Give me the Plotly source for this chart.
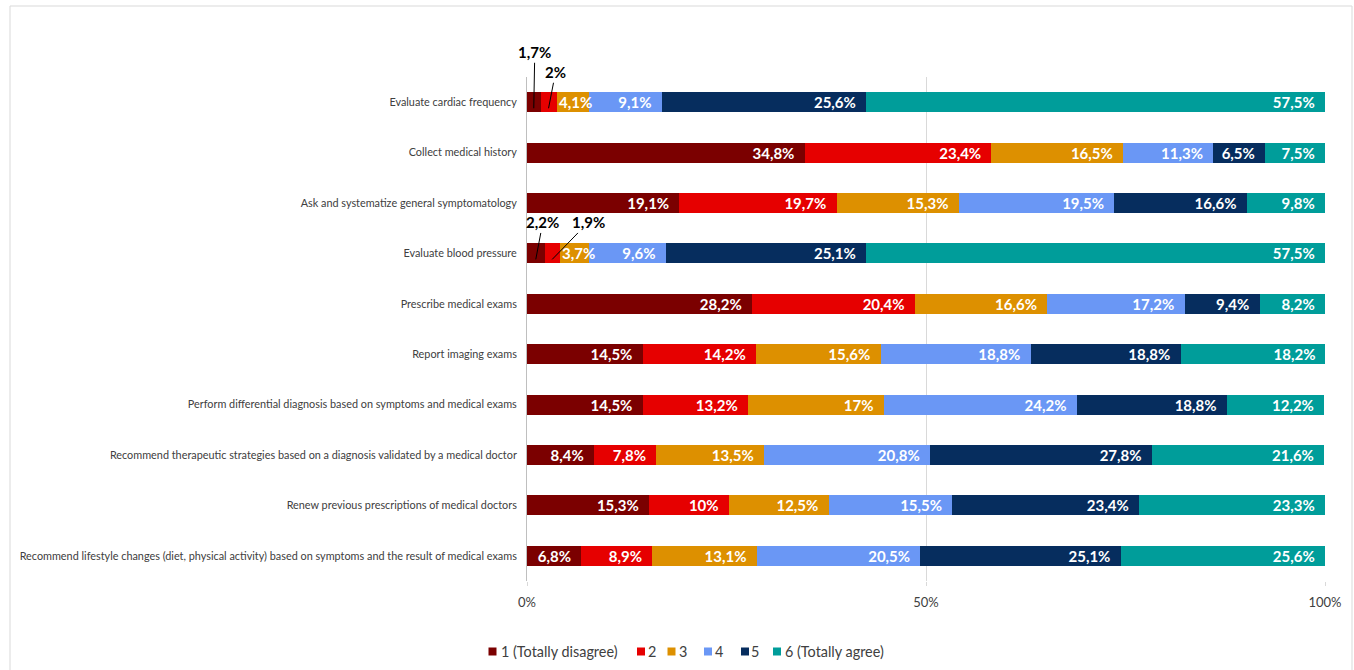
import plotly.graph_objects as go

# Survey items, top to bottom
items = [
    "Evaluate cardiac frequency",
    "Collect medical history",
    "Ask and systematize general symptomatology",
    "Evaluate blood pressure",
    "Prescribe medical exams",
    "Report imaging exams",
    "Perform differential diagnosis based on symptoms and medical exams",
    "Recommend therapeutic strategies based on a diagnosis validated by a medical doctor",
    "Renew previous prescriptions of medical doctors",
    "Recommend lifestyle changes (diet, physical activity) based on symptoms and the result of medical exams",
]

# Share of answers (%) per agreement level
level1 = [1.7, 34.8, 19.1, 2.2, 28.2, 14.5, 14.5, 8.4, 15.3, 6.8]
level2 = [2.0, 23.4, 19.7, 1.9, 20.4, 14.2, 13.2, 7.8, 10.0, 8.9]
level3 = [4.1, 16.5, 15.3, 3.7, 16.6, 15.6, 17.0, 13.5, 12.5, 13.1]
level4 = [9.1, 11.3, 19.5, 9.6, 17.2, 18.8, 24.2, 20.8, 15.5, 20.5]
level5 = [25.6, 6.5, 16.6, 25.1, 9.4, 18.8, 18.8, 27.8, 23.4, 25.1]
level6 = [57.5, 7.5, 9.8, 57.5, 8.2, 18.2, 12.2, 21.6, 23.3, 25.6]

level_names = ["1 (Totally disagree)", "2", "3", "4", "5", "6 (Totally agree)"]
colors = ["#7B0000", "#E60000", "#DD9000", "#6A97F5", "#062D5E", "#009D9A"]

tick_vals = [0, 50, 100]
tick_text = ["0%", "50%", "100%"]

LABEL_FONT = "Lato, 'Open Sans', sans-serif"

# Plot-area geometry in pixels (used to place the frame and the legend)
W, H = 1354, 670
ML, MR, MT, MB = 527, 29, 77, 89
PW, PH = W - ML - MR, H - MT - MB


def px_x(px):
    return (px - ML) / PW


def px_y(py):
    return (H - MB - py) / PH


def fmt(v):
    return f"{v:g}".replace(".", ",") + "%"


series = [level1, level2, level3, level4, level5, level6]

fig = go.Figure()
narrow = []  # (row, segment start, value) for labels placed from the segment start
for k, (name, vals, col) in enumerate(zip(level_names, series, colors)):
    texts = []
    for i, v in enumerate(vals):
        if v < 3:
            texts.append("")  # labelled with callouts instead
        elif v < 6:
            texts.append("")
            narrow.append((i, sum(s[i] for s in series[:k]), v))
        else:
            texts.append(fmt(v) + "\u00a0\u00a0")
    fig.add_trace(go.Bar(
        name=name,
        y=items,
        x=vals,
        orientation="h",
        marker=dict(color=col, line=dict(width=0)),
        text=texts,
        textposition="inside",
        insidetextanchor="end",
        textangle=0,
        textfont=dict(family=LABEL_FONT, size=15, color="white", weight="bold"),
        hoverinfo="skip",
        showlegend=False,
    ))

# Narrow segments: white label starting at the left edge of the segment
for row, start, v in narrow:
    fig.add_annotation(
        x=start, y=row, xref="x", yref="y",
        xanchor="left", yanchor="middle", xshift=1, showarrow=False,
        text="<b>" + fmt(v) + "</b>", borderpad=0,
        font=dict(family=LABEL_FONT, size=15, color="white"),
    )

# Callouts for the narrowest segments
callouts = [
    (0, level1[0] / 2, 1, -56, level1[0]),
    (0, level1[0] + level2[0] / 2, 7, -36, level2[0]),
    (3, level1[3] / 2, 7, -37, level1[3]),
    (3, level1[3] + level2[3] / 2, 36, -37, level2[3]),
]
for row, xpos, ax, ay, v in callouts:
    fig.add_annotation(
        x=xpos, y=row + 0.12, xref="x", yref="y",
        text="<b>" + fmt(v) + "</b>",
        showarrow=True, arrowhead=0, arrowwidth=1, arrowcolor="black",
        ax=ax, ay=ay, standoff=0, startstandoff=0,
        font=dict(family=LABEL_FONT, size=15, color="black"),
    )

# Legend: colour squares followed by level names
legend_square_px = [488.5, 637, 667.5, 704, 741, 773]
legend_text_px = [501, 648, 678.5, 715, 751, 784.5]
legend_y_px = 651.5
sq = 8
for name, col, sx, tx in zip(level_names, colors, legend_square_px, legend_text_px):
    fig.add_shape(
        type="rect", xref="paper", yref="paper",
        x0=px_x(sx), x1=px_x(sx + sq),
        y0=px_y(legend_y_px + sq / 2), y1=px_y(legend_y_px - sq / 2),
        line=dict(width=0), fillcolor=col,
    )
    fig.add_annotation(
        x=px_x(tx), y=px_y(legend_y_px), xref="paper", yref="paper",
        xanchor="left", yanchor="middle", showarrow=False,
        text=name, borderpad=0, borderwidth=0,
        font=dict(family=LABEL_FONT, size=14.4, color="#404040"),
    )

# Light frame around the chart
fig.add_shape(
    type="rect", xref="paper", yref="paper",
    x0=px_x(10), x1=px_x(1352), y0=px_y(680), y1=px_y(6),
    line=dict(color="#D9D9D9", width=1), fillcolor="rgba(0,0,0,0)", layer="below",
)

fig.update_layout(
    width=W, height=H,
    margin=dict(l=ML, r=MR, t=MT, b=MB),
    barmode="stack",
    bargap=0.6,
    plot_bgcolor="white",
    paper_bgcolor="white",
    font=dict(family=LABEL_FONT, color="#404040"),
    showlegend=False,
    uniformtext=dict(mode="show", minsize=15),
    xaxis=dict(
        range=[0, 100],
        tickvals=tick_vals,
        ticktext=tick_text,
        showgrid=True,
        gridcolor="#D9D9D9",
        zeroline=False,
        ticks="outside",
        ticklen=4,
        tickcolor="#D9D9D9",
        ticklabelstandoff=5,
        tickfont=dict(family=LABEL_FONT, size=13, color="#404040"),
        showline=False,
    ),
    yaxis=dict(
        categoryorder="array",
        categoryarray=items,
        autorange="reversed",
        showline=True,
        linecolor="#BFBFBF",
        linewidth=1,
        ticks="",
        ticklabelstandoff=7,
        tickfont=dict(family=LABEL_FONT, size=10.85, color="#404040"),
    ),
)

fig.write_html("out.html")
